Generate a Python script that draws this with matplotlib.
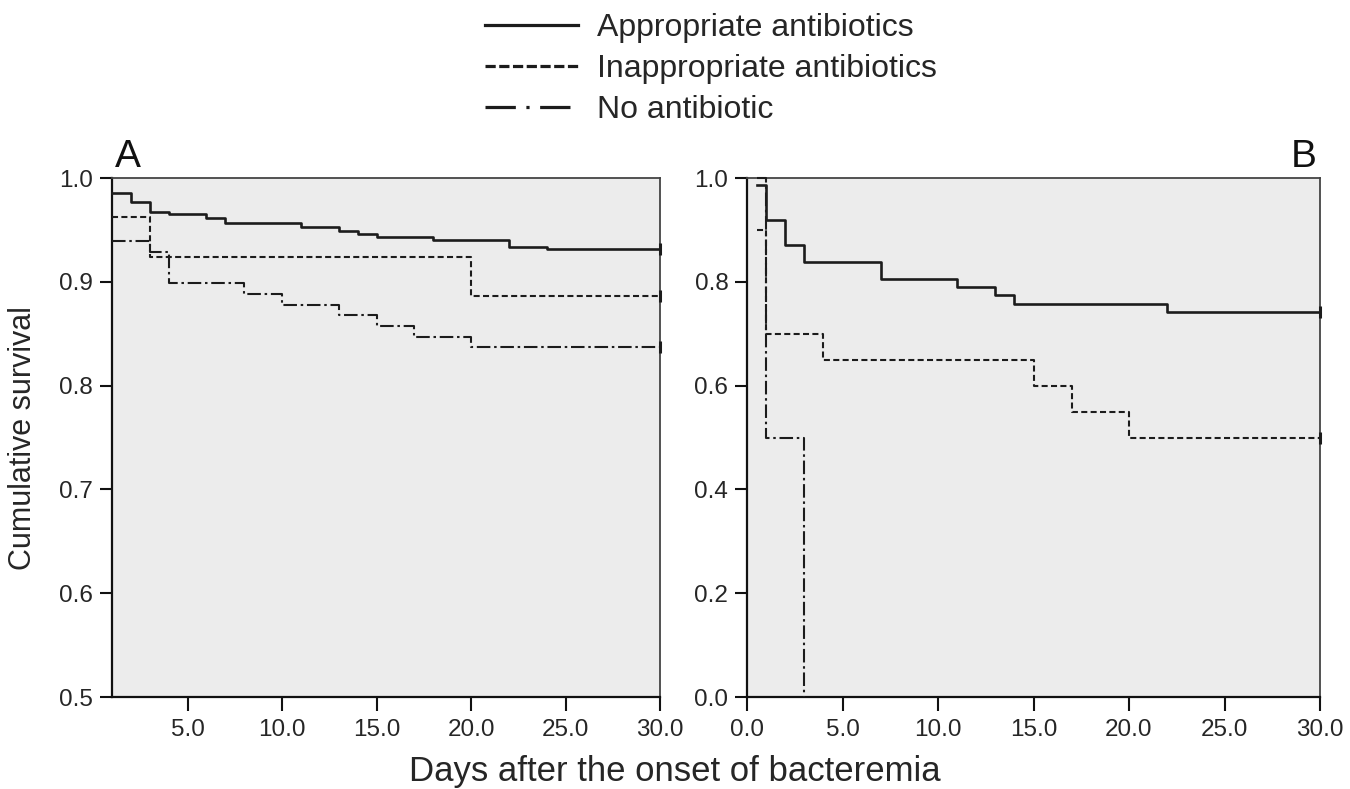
import matplotlib
matplotlib.use("Agg")
import matplotlib.pyplot as plt
from matplotlib.lines import Line2D
from matplotlib.ticker import FormatStrFormatter

plt.rcParams['font.family'] = ['Liberation Sans', 'DejaVu Sans']

# ---------------- data ----------------
series_labels = ['Appropriate antibiotics', 'Inappropriate antibiotics', 'No antibiotic']

# Panel A (days after onset, cumulative survival) - step functions
a_appr_days = [1, 2, 3, 4, 6, 7, 11, 13, 14, 15, 18, 22, 24, 30]
a_appr_surv = [0.986, 0.977, 0.967, 0.965, 0.961, 0.957, 0.953, 0.949, 0.946, 0.943, 0.940, 0.934, 0.932, 0.932]
a_inap_days = [1, 3, 20, 30]
a_inap_surv = [0.962, 0.924, 0.886, 0.886]
a_none_days = [1, 3, 4, 8, 10, 13, 15, 17, 20, 30]
a_none_surv = [0.939, 0.929, 0.899, 0.888, 0.878, 0.868, 0.857, 0.847, 0.837, 0.837]

# Panel B
b_appr_days = [0.5, 1, 2, 3, 7, 11, 13, 14, 22, 30]
b_appr_surv = [0.986, 0.92, 0.87, 0.838, 0.806, 0.79, 0.774, 0.757, 0.742, 0.742]
b_inap_days = [0.5, 1, 4, 15, 17, 20, 30]
b_inap_surv = [0.90, 0.70, 0.65, 0.60, 0.55, 0.50, 0.50]
b_none_days = [0.5, 1, 3]
b_none_surv = [1.0, 0.5, 0.0]

a_xticks = [5, 10, 15, 20, 25, 30]
a_yticks = [0.5, 0.6, 0.7, 0.8, 0.9, 1.0]
b_xticks = [0, 5, 10, 15, 20, 25, 30]
b_yticks = [0.0, 0.2, 0.4, 0.6, 0.8, 1.0]

# ---------------- styling ----------------
W, H = 1350, 789
fig = plt.figure(figsize=(W / 100, H / 100), dpi=100)
fig.patch.set_facecolor('white')

def rect(x0, y0, x1, y1):
    return [x0 / W, 1 - y1 / H, (x1 - x0) / W, (y1 - y0) / H]

axA = fig.add_axes(rect(112, 178, 660, 697))
axB = fig.add_axes(rect(747, 178, 1320, 697))

LC = '#1c1c1c'
styles = [
    dict(color=LC, lw=1.9, linestyle='-'),
    dict(color=LC, lw=1.5, linestyle=(0, (2.9, 1.6))),
    dict(color=LC, lw=1.5, linestyle=(0, (6.5, 1.8, 1.2, 1.8))),
]

def draw(ax, data, xlim, ylim, xticks, yticks):
    ax.set_facecolor('#ececec')
    for (d, s), st in zip(data, styles):
        ax.plot(d, s, drawstyle='steps-post', clip_on=False, zorder=3, **st)
        if d[-1] == xlim[1]:
            ax.plot([d[-1]], [s[-1]], marker='|', markersize=9, mew=2.2,
                    color=LC, clip_on=False, zorder=4)
    ax.set_xlim(*xlim)
    ax.set_ylim(*ylim)
    ax.set_xticks(xticks)
    ax.set_yticks(yticks)
    ax.xaxis.set_major_formatter(FormatStrFormatter('%.1f'))
    ax.yaxis.set_major_formatter(FormatStrFormatter('%.1f'))
    for side in ['left', 'bottom']:
        ax.spines[side].set_linewidth(1.6)
        ax.spines[side].set_color('#111111')
    for side in ['top', 'right']:
        ax.spines[side].set_linewidth(1.3)
        ax.spines[side].set_color('#444444')
    ax.tick_params(axis='x', direction='out', length=10, width=1.5, pad=6,
                   labelsize=17.5, colors='#111111', labelcolor='#262626')
    ax.tick_params(axis='y', direction='out', length=8.5, width=1.5, pad=5,
                   labelsize=17.5, colors='#111111', labelcolor='#262626')

draw(axA, [(a_appr_days, a_appr_surv), (a_inap_days, a_inap_surv), (a_none_days, a_none_surv)],
     (1, 30), (0.5, 1.0), a_xticks, a_yticks)
draw(axB, [(b_appr_days, b_appr_surv), (b_inap_days, b_inap_surv), (b_none_days, b_none_surv)],
     (0, 30), (0.0, 1.0), b_xticks, b_yticks)

# panel letters
fig.text(128 / W, 1 - 167 / H, 'A', ha='center', va='baseline', fontsize=28, color='#111111')
fig.text(1304 / W, 1 - 167 / H, 'B', ha='center', va='baseline', fontsize=28, color='#111111')

# axis labels
fig.text(23 / W, 1 - 438 / H, 'Cumulative survival', rotation=90, ha='center', va='center',
         fontsize=22, color='#262626')
fig.text(675 / W, 1 - 772 / H, 'Days after the onset of bacteremia', ha='center', va='center',
         fontsize=25, color='#262626')

# legend
leg_handles = [
    Line2D([], [], color=LC, lw=2.3, linestyle='-'),
    Line2D([], [], color=LC, lw=2.3, linestyle=(0, (3.2, 1.1))),
    Line2D([], [], color=LC, lw=2.3, linestyle=(0, (9.5, 3.3, 1.0, 3.3))),
]
fig.legend(leg_handles, series_labels, loc='upper left', bbox_to_anchor=(485 / W, 1 - 13 / H),
           frameon=False, fontsize=23, handlelength=2.91, handletextpad=0.59,
           labelspacing=0.34, borderpad=0, borderaxespad=0, labelcolor='#262626')

fig.savefig('out.png', dpi=100)
